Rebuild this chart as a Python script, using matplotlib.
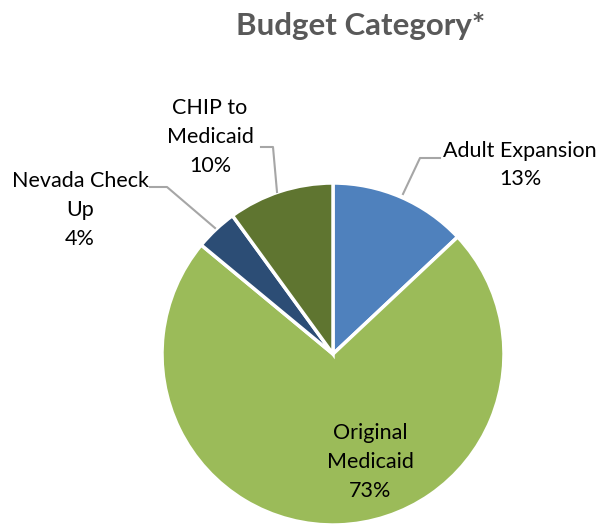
import matplotlib.pyplot as plt

# Data
categories = ["Adult Expansion", "Original\nMedicaid", "Nevada Check\nUp", "CHIP to\nMedicaid"]
shares = [13, 73, 4, 10]
colors = ["#4F81BD", "#9BBB59", "#2C4D75", "#5F7530"]

W, H = 602, 527
fig = plt.figure(figsize=(W / 100, H / 100), dpi=100)
ax = fig.add_axes([0, 0, 1, 1])

cx, cy, r = 333, H - 354, 171
ax.pie(shares, colors=colors, startangle=90, counterclock=False,
       center=(cx, cy), radius=r, frame=True,
       wedgeprops=dict(edgecolor="white", linewidth=2.5))
ax.set_xlim(0, W)
ax.set_ylim(0, H)
ax.set_aspect("equal")
ax.axis("off")

font = "Lato"
fs = 15.5

# labels with percentages
labels = [f"{c}\n{s}%" for c, s in zip(categories, shares)]
label_pos = [(520, H - 165), (370, H - 462), (80, H - 210), (210, H - 137)]
for (x, y), txt in zip(label_pos, labels):
    ax.text(x, y, txt, ha="center", va="center", fontsize=fs, family=font,
            color="black", linespacing=1.55)

# leader lines
lc = "#A6A6A6"
ax.plot([403, 420, 440], [H - 194, H - 158, H - 158], color=lc, lw=1.5)
ax.plot([277, 273, 261], [H - 192, H - 147, H - 147], color=lc, lw=1.5)
ax.plot([215, 167, 150], [H - 228, H - 187, H - 187], color=lc, lw=1.5)

fig.text(361 / W, 1 - 26 / H, "Budget Category*", ha="center", va="center",
         fontsize=22.5, fontweight="bold", family=font, color="#595959")

fig.savefig("out.png", dpi=100)
